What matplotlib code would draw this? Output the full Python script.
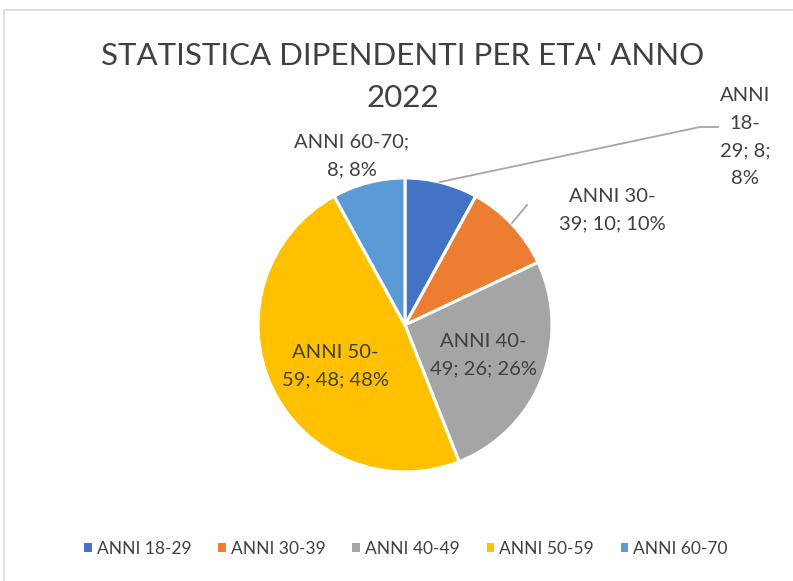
import matplotlib
matplotlib.use("Agg")
import matplotlib.pyplot as plt
from matplotlib.patches import Rectangle

categories = ["ANNI 18-29", "ANNI 30-39", "ANNI 40-49", "ANNI 50-59", "ANNI 60-70"]
values = [8, 10, 26, 48, 8]
percents = ["8%", "10%", "26%", "48%", "8%"]
colors = ["#4472C4", "#ED7D31", "#A5A5A5", "#FFC000", "#5B9BD5"]
title = "STATISTICA DIPENDENTI PER ETA' ANNO\n2022"

W, H = 793, 581
plt.rcParams["font.family"] = ["Lato", "DejaVu Sans"]
txt_color = "#404040"

fig = plt.figure(figsize=(W / 100, H / 100), dpi=100)
ax = fig.add_axes([0, 0, 1, 1])


def py(y):
    # pixel-from-top -> data y
    return H - y


cx, cy, r = 405, 325, 147
wedges, _ = ax.pie(values, colors=colors, startangle=90, counterclock=False,
                   center=(cx, py(cy)), radius=r, frame=True,
                   wedgeprops=dict(edgecolor="white", linewidth=2.2))
ax.set_xlim(0, W)
ax.set_ylim(0, H)
ax.set_aspect("equal")
ax.axis("off")

# chart area border (cropped on right/bottom)
ax.add_patch(Rectangle((4, py(590)), 800, 580, fill=False, edgecolor="#D9D9D9",
                       lw=1.2, clip_on=False))

# data labels: "category; value; percent", wrapped like Excel does
label_text = [
    "ANNI\n18-\n29; 8;\n8%",
    "ANNI 30-\n39; 10; 10%",
    "ANNI 40-\n49; 26; 26%",
    "ANNI 50-\n59; 48; 48%",
    "ANNI 60-70;\n8; 8%",
]
label_pos = [(745, 137), (612, 210), (483, 355), (335, 366), (352, 156)]
for t, (x, y) in zip(label_text, label_pos):
    ax.text(x, py(y), t, ha="center", va="center", fontsize=14.5,
            color=txt_color, linespacing=1.75)

# leader lines
ax.plot([440, 700, 718], [py(182), py(127), py(127)], color="#A6A6A6", lw=1.3)
ax.plot([512, 527], [py(223), py(205)], color="#A6A6A6", lw=1.3)

fig.text(403 / W, 1 - 77 / H, title, ha="center", va="center", fontsize=22.5,
         color=txt_color, linespacing=1.6)

leg = ax.legend(wedges, categories, loc="center", bbox_to_anchor=(406 / W, 1 - 549 / H),
                bbox_transform=fig.transFigure, ncol=5, frameon=False, fontsize=12.5,
                handlelength=0.42, handleheight=0.42, handletextpad=0.3,
                columnspacing=1.55, labelcolor=txt_color)
for h in leg.legend_handles:
    h.set_edgecolor("none")

fig.savefig("out.png", dpi=100)
